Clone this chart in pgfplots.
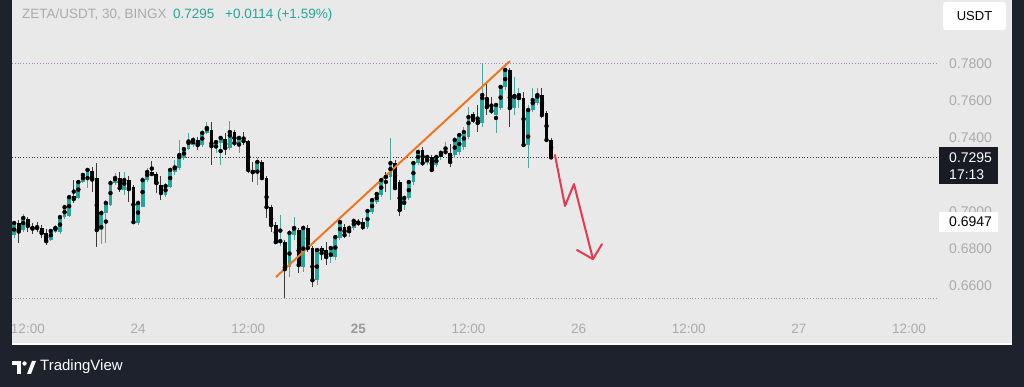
\documentclass[border=0pt]{standalone}
\usepackage{pgfplots}
\pgfplotsset{compat=1.18}
\usepackage{pgfplotstable}
\usepackage{fontspec}
\setmainfont{Liberation Sans}
\definecolor{bg}{HTML}{E9E9E9}
\definecolor{frame}{HTML}{1E222D}
\definecolor{upc}{HTML}{26A69A}
\definecolor{upw}{HTML}{4DA89F}
\definecolor{dnc}{HTML}{050505}
\definecolor{dnw}{HTML}{3A3A3A}
\definecolor{lbl}{HTML}{ABABAB}
\definecolor{hilo}{HTML}{A08CB4}
\definecolor{trend}{HTML}{F0761E}
\definecolor{arrowred}{HTML}{E53950}

\pgfplotstableread{
x o h l c
10.5 0.6875 0.6951 0.6859 0.6940
11.5 0.6902 0.6989 0.6891 0.6967
14.5 0.6848 0.6907 0.6842 0.6897
15.0 0.6891 0.6929 0.6886 0.6913
15.5 0.6891 0.6983 0.6880 0.6972
16.0 0.6972 0.7037 0.6961 0.7026
16.5 0.6978 0.7091 0.6972 0.7080
17.5 0.7075 0.7172 0.7070 0.7162
18.0 0.7162 0.7210 0.7156 0.7200
18.5 0.7189 0.7237 0.7129 0.7227
20.0 0.6902 0.7010 0.6826 0.6994
20.5 0.6994 0.7064 0.6832 0.7048
21.0 0.7037 0.7172 0.7032 0.7156
21.5 0.7156 0.7210 0.7145 0.7183
22.5 0.7118 0.7216 0.7091 0.7172
24.0 0.6940 0.7064 0.6929 0.7048
24.5 0.7026 0.7189 0.7026 0.7172
25.0 0.7172 0.7237 0.7162 0.7216
27.0 0.7091 0.7156 0.7080 0.7140
27.5 0.7135 0.7237 0.7129 0.7227
28.0 0.7216 0.7281 0.7200 0.7237
28.5 0.7237 0.7389 0.7227 0.7297
29.0 0.7291 0.7351 0.7281 0.7340
29.5 0.7340 0.7427 0.7335 0.7373
30.0 0.7362 0.7405 0.7351 0.7389
31.0 0.7362 0.7443 0.7351 0.7427
31.5 0.7427 0.7486 0.7422 0.7448
32.5 0.7362 0.7389 0.7319 0.7378
33.0 0.7373 0.7405 0.7254 0.7400
34.0 0.7346 0.7492 0.7335 0.7432
35.0 0.7373 0.7410 0.7319 0.7400
37.0 0.7216 0.7291 0.7145 0.7270
39.5 0.6832 0.6983 0.6815 0.6842
40.5 0.6702 0.6902 0.6648 0.6886
41.0 0.6875 0.6972 0.6848 0.6913
42.0 0.6702 0.6929 0.6675 0.6913
43.5 0.6631 0.6805 0.6604 0.6794
45.0 0.6756 0.6815 0.6723 0.6805
45.5 0.6756 0.6875 0.6740 0.6864
46.0 0.6859 0.6967 0.6848 0.6945
47.0 0.6886 0.6929 0.6864 0.6913
47.5 0.6913 0.6967 0.6902 0.6951
49.0 0.6918 0.7016 0.6907 0.7005
49.5 0.6999 0.7075 0.6989 0.7064
50.0 0.7053 0.7108 0.7043 0.7097
50.5 0.7091 0.7183 0.7080 0.7172
51.5 0.7189 0.7400 0.7064 0.7264
53.0 0.7037 0.7091 0.7010 0.7075
53.5 0.7075 0.7172 0.7064 0.7162
54.0 0.7162 0.7275 0.7145 0.7264
54.5 0.7264 0.7340 0.7254 0.7324
55.5 0.7264 0.7308 0.7254 0.7297
56.5 0.7254 0.7308 0.7243 0.7297
57.0 0.7297 0.7335 0.7281 0.7319
57.5 0.7319 0.7378 0.7308 0.7324
58.5 0.7308 0.7405 0.7291 0.7389
59.0 0.7324 0.7427 0.7308 0.7416
59.5 0.7351 0.7459 0.7335 0.7432
60.0 0.7405 0.7567 0.7394 0.7513
61.5 0.7481 0.7805 0.7459 0.7616
63.0 0.7524 0.7589 0.7427 0.7578
63.5 0.7562 0.7686 0.7551 0.7676
64.0 0.7676 0.7778 0.7659 0.7768
65.0 0.7562 0.7730 0.7524 0.7621
65.5 0.7605 0.7670 0.7562 0.7632
66.5 0.7362 0.7578 0.7237 0.7551
67.0 0.7551 0.7670 0.7540 0.7589
67.5 0.7589 0.7670 0.7578 0.7632
}\upT

\pgfplotstableread{
x o h l c
11.0 0.6940 0.6956 0.6832 0.6902
12.0 0.6961 0.6972 0.6891 0.6924
12.5 0.6924 0.6940 0.6880 0.6913
13.0 0.6918 0.6945 0.6891 0.6913
13.5 0.6913 0.6929 0.6859 0.6886
14.0 0.6886 0.6907 0.6821 0.6842
17.0 0.7086 0.7172 0.7048 0.7070
19.0 0.7221 0.7243 0.7108 0.7183
19.5 0.7183 0.7264 0.6810 0.6902
22.0 0.7183 0.7216 0.7108 0.7129
23.0 0.7172 0.7194 0.7053 0.7129
23.5 0.7135 0.7145 0.6934 0.6945
25.5 0.7216 0.7275 0.7194 0.7205
26.0 0.7205 0.7216 0.7102 0.7156
26.5 0.7145 0.7194 0.7064 0.7102
30.5 0.7389 0.7405 0.7335 0.7362
32.0 0.7443 0.7486 0.7254 0.7356
33.5 0.7394 0.7427 0.7308 0.7346
34.5 0.7432 0.7443 0.7356 0.7373
35.5 0.7394 0.7432 0.7362 0.7383
36.0 0.7383 0.7389 0.7210 0.7227
36.5 0.7227 0.7270 0.7162 0.7216
37.5 0.7270 0.7281 0.7172 0.7183
38.0 0.7183 0.7194 0.6967 0.7026
38.5 0.7026 0.7037 0.6891 0.6929
39.0 0.6929 0.6945 0.6832 0.6837
40.0 0.6837 0.6848 0.6534 0.6702
41.5 0.6902 0.6913 0.6669 0.6713
42.5 0.6913 0.6929 0.6783 0.6805
43.0 0.6805 0.6815 0.6594 0.6631
44.0 0.6805 0.6815 0.6740 0.6794
44.5 0.6794 0.6837 0.6713 0.6756
46.5 0.6918 0.6934 0.6859 0.6875
48.0 0.6951 0.6961 0.6924 0.6940
48.5 0.6945 0.6967 0.6902 0.6918
51.0 0.7200 0.7216 0.7108 0.7189
52.0 0.7264 0.7281 0.7118 0.7129
52.5 0.7162 0.7172 0.6978 0.7010
55.0 0.7335 0.7351 0.7248 0.7264
56.0 0.7297 0.7308 0.7216 0.7227
58.0 0.7319 0.7367 0.7243 0.7270
60.5 0.7529 0.7540 0.7481 0.7497
61.0 0.7497 0.7578 0.7432 0.7481
62.0 0.7616 0.7697 0.7524 0.7567
62.5 0.7573 0.7621 0.7529 0.7546
64.5 0.7768 0.7778 0.7459 0.7562
66.0 0.7616 0.7649 0.7356 0.7362
68.0 0.7632 0.7670 0.7508 0.7524
68.5 0.7535 0.7546 0.7383 0.7389
69.0 0.7389 0.7400 0.7295 0.7295
}\dnT

\begin{document}
\begin{tikzpicture}
\fill[frame] (0pt,0pt) rectangle (1024pt,387pt);
\fill[bg] (12pt,42pt) rectangle (1012pt,387pt);
\draw[white!92!bg, line width=1.5pt] (12pt,43pt) -- (1012pt,43pt);
\begin{axis}[
  at={(12pt,75pt)}, anchor=south west,
  width=926pt, height=312pt, scale only axis,
  xmin=10.27, xmax=111.15, ymin=0.6459, ymax=0.8146,
  axis line style={draw=none}, major tick length=0pt,
  xtick={12,24,36,48,60,72,84,96,108},
  xticklabels={12:00,24,12:00,{\color{black!40}\bfseries 25},12:00,26,12:00,27,12:00},
  xticklabel style={font=\fontsize{13.5}{15}\selectfont, text=lbl, anchor=center, yshift=-17pt},
  ytick={0.66,0.68,0.70,0.74,0.76,0.78},
  yticklabels={0.6600,0.6800,0.7000,0.7400,0.7600,0.7800},
  yticklabel pos=right,
  yticklabel style={font=\fontsize{14}{16}\selectfont, text=lbl, anchor=west, inner sep=0pt, xshift=11pt},
  clip=true,
]
% hi / lo and last price lines
\addplot[hilo, line width=0.8pt, dash pattern=on 1pt off 1.8pt, forget plot] coordinates {(10.27,0.7805) (111.15,0.7805)};
\addplot[hilo, line width=0.8pt, dash pattern=on 1pt off 1.8pt, forget plot] coordinates {(10.27,0.6534) (111.15,0.6534)};
\addplot[black!80, line width=0.8pt, dash pattern=on 1pt off 1.8pt, forget plot] coordinates {(10.27,0.7295) (111.15,0.7295)};
% wicks
\addplot[only marks, mark=none, forget plot,
  error bars/.cd, y dir=both, y explicit, error mark=none,
  error bar style={line width=1pt, upw}]
  table[x=x, y expr={(\thisrow{h}+\thisrow{l})/2}, y error expr={(\thisrow{h}-\thisrow{l})/2}] {\upT};
\addplot[only marks, mark=none, forget plot,
  error bars/.cd, y dir=both, y explicit, error mark=none,
  error bar style={line width=1pt, dnw}]
  table[x=x, y expr={(\thisrow{h}+\thisrow{l})/2}, y error expr={(\thisrow{h}-\thisrow{l})/2}] {\dnT};
% bodies (open to close)
\addplot[upc, line width=3.8pt, mark=none, forget plot,
  quiver={u=0, v=\thisrow{c}-\thisrow{o}}] table[x=x, y=o] {\upT};
\addplot[dnc, line width=3.8pt, mark=none, forget plot,
  quiver={u=0, v=\thisrow{c}-\thisrow{o}}] table[x=x, y=o] {\dnT};
% minimum body thickness for doji candles
\addplot[only marks, mark=none, forget plot,
  error bars/.cd, y dir=both, y explicit, error mark=none,
  error bar style={line width=3.8pt, upc}]
  table[x=x, y=c, y error expr={0.0003}] {\upT};
\addplot[only marks, mark=none, forget plot,
  error bars/.cd, y dir=both, y explicit, error mark=none,
  error bar style={line width=3.8pt, dnc}]
  table[x=x, y=c, y error expr={0.0003}] {\dnT};
% trend line
\addplot[trend, line width=2pt, forget plot] coordinates {(39.03,0.6648) (64.52,0.7816)};
% red arrow
\addplot[arrowred, line width=2pt, line join=round, line cap=round, forget plot] coordinates {(69.42,0.7308) (70.51,0.7032) (71.49,0.7151) (73.56,0.6745)};
\addplot[arrowred, line width=2pt, line join=round, line cap=round, forget plot] coordinates {(71.82,0.6794) (73.56,0.6745) (74.54,0.6826)};
\end{axis}
% frame re-cover
\fill[frame] (0pt,0pt) rectangle (12pt,387pt);
\fill[frame] (1012pt,0pt) rectangle (1024pt,387pt);
% header
\node[anchor=base west, inner sep=0pt, text=lbl, font=\fontsize{13.5}{15}\selectfont] at (22pt,368pt) {ZETA/USDT, 30, BINGX};
\node[anchor=base west, inner sep=0pt, text=upc, font=\fontsize{13.5}{15}\selectfont] at (173pt,368pt) {0.7295};
\node[anchor=base west, inner sep=0pt, text=upc, font=\fontsize{13.5}{15}\selectfont] at (225pt,368pt) {+0.0114 (+1.59\%)};
% USDT button
\fill[white, rounded corners=3pt] (943pt,357pt) rectangle (1006pt,385pt);
\node[text=black, font=\fontsize{13}{15}\selectfont] at (974.5pt,371pt) {USDT};
% last price label
\fill[frame!80!black] (939pt,203pt) rectangle (998pt,240pt);
\node[anchor=west, inner sep=0pt, text=white, font=\fontsize{14}{16}\selectfont] at (949pt,229pt) {0.7295};
\node[anchor=west, inner sep=0pt, text=white, font=\fontsize{14}{16}\selectfont] at (949pt,212pt) {17:13};
% 0.6947 label
\fill[white] (939pt,155pt) rectangle (998pt,175pt);
\node[anchor=west, inner sep=0pt, text=black, font=\fontsize{14}{16}\selectfont] at (949pt,165pt) {0.6947};
% TradingView logo
\fill[white] (12pt,22pt) rectangle (21pt,26pt);
\fill[white] (17pt,13pt) rectangle (21pt,26pt);
\fill[white] (24.5pt,23.5pt) circle (2.2pt);
\fill[white] (27pt,13pt) -- (31pt,13pt) -- (36pt,26pt) -- (32pt,26pt) -- cycle;
\node[anchor=west, inner sep=0pt, text=white, font=\fontsize{15}{17}\selectfont] at (40pt,20pt) {TradingView};
\pgfresetboundingbox
\path[use as bounding box] (0pt,0pt) rectangle (1024pt,387pt);
\end{tikzpicture}
\end{document}
